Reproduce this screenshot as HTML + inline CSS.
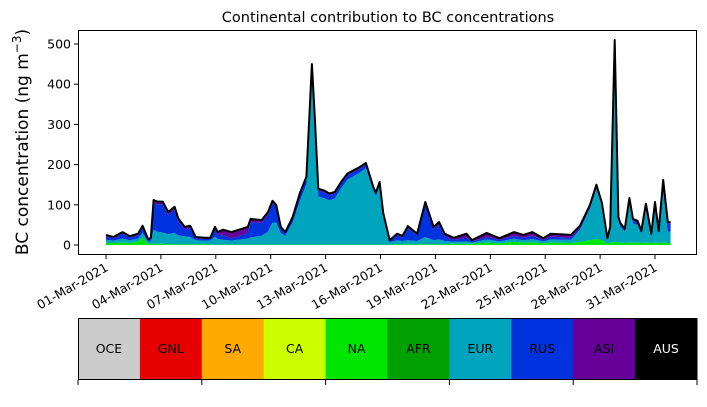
<!DOCTYPE html>
<html><head><meta charset="utf-8"><style>
body{margin:0;background:#fff;width:707px;height:402px;overflow:hidden;font-family:"Liberation Sans","DejaVu Sans",sans-serif}
svg text{font-family:"DejaVu Sans","Liberation Sans",sans-serif}
</style></head><body>
<svg id="c" width="707" height="402" viewBox="0 0 707 402" xmlns="http://www.w3.org/2000/svg"></svg>
<script>
const days=[0,0.4,0.9,1.3,1.75,2.0,2.3,2.45,2.6,2.8,3.1,3.4,3.75,3.95,4.3,4.6,4.9,5.4,5.7,5.95,6.1,6.4,6.85,7.2,7.75,7.9,8.5,8.85,9.1,9.3,9.55,9.8,10.2,10.6,10.95,11.25,11.4,11.6,11.95,12.2,12.5,12.85,13.2,13.8,14.2,14.6,14.75,14.95,15.15,15.5,15.9,16.2,16.5,17.0,17.45,17.9,18.2,18.5,19.0,19.7,20.0,20.8,21.5,22.3,22.8,23.3,23.9,24.3,25.4,25.9,26.45,26.8,27.1,27.4,27.55,27.8,28.0,28.1,28.35,28.6,28.8,29.05,29.25,29.5,29.8,30.0,30.2,30.45,30.7,30.85];
const na=[5,5,6,5,8,18,3,3,3,3,3,2,2,2,2,2,2,2,1,1,1,1,1,1,1,1,1,1,1,1,1,1,1,1,1,1,1,1,1,1,1,1,1,1,1,1,1,1,1,1,2,2,2,2,2,2,2,2,3,3,3,6,4,8,6,7,4,6,5,8,12,15,12,4,6,8,6,6,5,6,6,6,5,6,5,6,5,6,5,5];
const eur=[8,6,10,7,8,12,5,6,35,30,28,25,28,22,20,18,10,9,10,20,14,12,10,12,15,18,22,32,55,55,28,22,55,110,150,420,305,120,115,110,115,140,162,177,190,135,121,147,72,6,10,8,10,8,18,10,12,8,5,6,3,8,5,8,6,8,5,8,8,30,78,125,85,8,33,490,55,40,28,98,48,44,22,80,15,80,20,125,28,28];
const rus=[8,6,12,7,8,14,5,6,68,68,70,48,57,35,17,22,5,4,4,18,10,12,6,8,14,38,32,42,48,38,12,6,10,14,14,22,17,14,14,13,12,12,11,10,9,6,5,6,5,3,12,9,30,14,80,27,36,12,5,9,3,6,4,7,6,8,4,7,5,4,4,4,3,2,2,6,4,4,3,8,6,5,4,12,4,16,6,25,20,20];
const asi=[4,3,4,3,4,4,2,2,6,7,7,7,8,7,6,6,3,3,3,6,7,13,15,16,15,8,7,7,6,6,4,3,4,5,5,7,5,5,5,4,4,4,4,4,4,3,3,3,2,2,4,4,5,4,7,6,7,6,5,10,3,10,4,9,7,9,4,7,7,6,6,6,5,3,4,6,5,5,4,5,5,5,4,5,4,5,4,6,4,4];
const yTicks=[0,100,200,300,400,500];
const xTickDays=[0,3,6,9,12,15,18,21,24,27,30];
const xTickLabels=["01-Mar-2021","04-Mar-2021","07-Mar-2021","10-Mar-2021","13-Mar-2021","16-Mar-2021","19-Mar-2021","22-Mar-2021","25-Mar-2021","28-Mar-2021","31-Mar-2021"];
const legendNames=["OCE","GNL","SA","CA","NA","AFR","EUR","RUS","ASI","AUS"];
const legendColors=["#cccccc","#e60000","#ffaa00","#ccff00","#00e600","#00a000","#00a5bd","#0033dd","#660099","#000000"];

const svg=document.getElementById('c');const NS='http://www.w3.org/2000/svg';
const L=78,R=697,T=30,B=255;
const x=d=>106+(d)*18.3;
const y=v=>245-v*0.402;
function mk(t,a,p){const e=document.createElementNS(NS,t);for(const k in a)e.setAttribute(k,a[k]);(p||svg).appendChild(e);return e;}
const title=mk('text',{x:388,y:22,'text-anchor':'middle','font-size':14.5});title.textContent='Continental contribution to BC concentrations';


const g=mk('g',{});


const series=[na,eur,rus,asi];const cols=["#00e600","#00a5bd","#0033dd","#660099"];const names=["area-na","area-eur","area-rus","area-asi"];
let base=days.map(()=>0);
series.forEach((s,si)=>{
  const top=base.map((b,i)=>b+s[i]);
  let d='M'+days.map((dd,i)=>x(dd).toFixed(1)+','+y(top[i]).toFixed(1)).join('L');
  for(let i=days.length-1;i>=0;i--)d+='L'+x(days[i]).toFixed(1)+','+y(base[i]).toFixed(1);
  const p=mk('path',{d:d+'Z',fill:cols[si]},g);
  
  
  base=top;
});
const tl=mk('path',{d:'M'+days.map((dd,i)=>x(dd).toFixed(1)+','+y(base[i]).toFixed(1)).join('L'),fill:'none',stroke:'#000','stroke-width':2,'stroke-linejoin':'round'});


const fr=mk('rect',{x:L+0.5,y:T+0.5,width:R-L-1,height:B-T-1,fill:'none',stroke:'#000','stroke-width':1});


yTicks.forEach(v=>{
  mk('line',{x1:L-4,x2:L,y1:y(v),y2:y(v),stroke:'#000'});
  const t=mk('text',{x:L-7,y:y(v)+4.5,'text-anchor':'end','font-size':12.5});t.textContent=v;
  
  
});
xTickDays.forEach((d,i)=>{
  mk('line',{x1:x(d),x2:x(d),y1:B,y2:B+4,stroke:'#000'});
  const t=mk('text',{x:x(d)+3,y:B+15,'text-anchor':'end','font-size':12.5,transform:`rotate(-30 ${x(d)+3} ${B+15})`});t.textContent=xTickLabels[i];
  
  
});
const yl=mk('text',{x:28,y:142,'text-anchor':'middle','font-size':17,transform:'rotate(-90 28 142)'});
yl.innerHTML='BC concentration (ng m<tspan dy="-7" font-size="12">−3</tspan><tspan dy="7">)</tspan>';


const lg=mk('g',{});


const cw=(R-L)/legendNames.length;
legendNames.forEach((n,i)=>{
  const r=mk('rect',{x:L+i*cw,y:318,width:cw+0.5,height:62,fill:legendColors[i]},lg);
  
  
  const t=mk('text',{x:L+i*cw+cw/2,y:353,'text-anchor':'middle','font-size':12.5,fill:i==9?'#fff':'#000'},lg);t.textContent=n;
});
mk('rect',{x:L+0.5,y:318.5,width:R-L-1,height:61,fill:'none',stroke:'#000'},lg);
[0,2,4,6,8,10].forEach(i=>mk('line',{x1:L+i*cw,x2:L+i*cw,y1:380,y2:385,stroke:'#000'},lg));
</script>
</body></html>
